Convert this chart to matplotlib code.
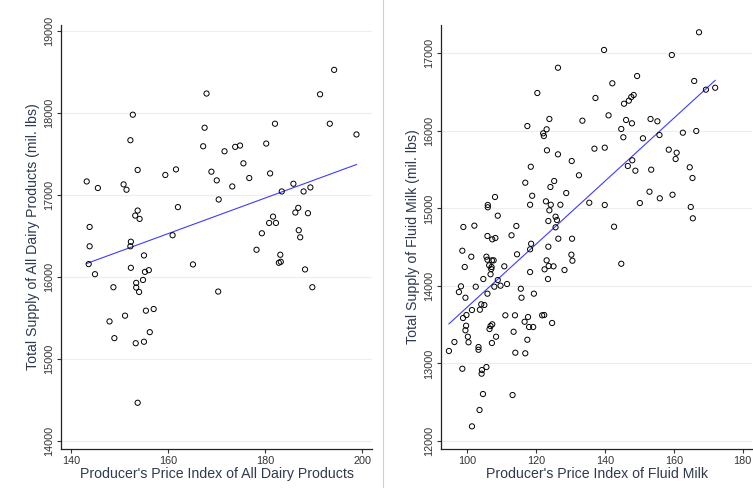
import numpy as np
import matplotlib
matplotlib.use("Agg")
import matplotlib.pyplot as plt
from matplotlib.lines import Line2D

plt.rcParams['font.family'] = ['Liberation Sans', 'DejaVu Sans']

# ---- Left panel: All dairy products ----
dairy_ppi = [194.2, 167.9, 191.3, 152.7, 167.5, 193.3, 182.0, 198.8, 152.2, 167.2,
             173.8, 174.8, 171.6, 180.2, 175.5, 153.7, 161.6, 159.4, 168.9, 170.0,
             181.0, 176.7, 143.2, 145.5, 150.8, 151.4, 173.2, 185.8, 183.4, 187.9,
             189.3, 170.4, 162.0, 153.7, 153.2, 154.1, 186.8, 186.2, 188.8, 181.6,
             180.8, 182.2, 143.8, 179.3, 186.9, 187.2, 160.9, 143.8, 143.6, 144.9,
             152.3, 152.2, 155.0, 152.3, 155.2, 156.0, 154.8, 153.4, 153.4, 154.0,
             148.7, 165.1, 170.3, 178.2, 183.1, 182.8, 183.2, 188.2, 189.7, 155.4,
             157.0, 151.1, 147.9, 156.2, 148.9, 153.3, 155.0, 153.7]
dairy_supply = [18526, 18237, 18228, 17979, 17820, 17869, 17869, 17738, 17668, 17594,
                17587, 17603, 17533, 17627, 17386, 17305, 17312, 17244, 17284, 17178,
                17263, 17207, 17165, 17085, 17129, 17064, 17104, 17137, 17043, 17043,
                17092, 16945, 16852, 16810, 16749, 16708, 16843, 16786, 16778, 16736,
                16659, 16659, 16610, 16533, 16570, 16484, 16509, 16374, 16157, 16034,
                16430, 16374, 16263, 16112, 16062, 16083, 15964, 15928, 15871, 15817,
                15875, 16153, 15822, 16332, 16271, 16173, 16185, 16092, 15875, 15589,
                15609, 15528, 15458, 15327, 15254, 15192, 15210, 14466]

# ---- Right panel: Fluid milk ----
milk_ppi = [126.3, 120.3, 137.2, 123.8, 133.4, 117.4, 123.0, 122.0, 122.2, 123.1,
            126.3, 136.9, 130.3, 118.4, 132.4, 125.2, 116.8, 124.1, 128.7, 108.0,
            118.8, 122.8, 118.2, 124.2, 127.0, 135.4, 105.9, 105.9, 123.8, 108.8,
            125.6, 126.0, 123.5, 98.8, 102.0, 114.2, 125.6, 167.3, 139.7, 159.4,
            149.3, 165.9, 142.1, 169.3, 172.0, 148.3, 147.6, 146.9, 145.5, 141.0,
            146.1, 147.8, 153.2, 155.2, 144.7, 145.3, 151.0, 155.8, 162.6, 166.5,
            139.9, 158.5, 160.8, 160.5, 147.9, 146.6, 148.8, 153.4, 164.6, 165.4,
            152.9, 155.9, 159.6, 150.1, 139.9, 164.9, 165.5, 142.6, 105.8, 107.2,
            108.1, 112.8, 126.4, 130.4, 118.5, 118.2, 123.5, 98.5, 101.1, 105.5,
            105.8, 107.1, 107.6, 114.4, 130.2, 130.5, 123.0, 99.2, 106.3, 107.0,
            106.9, 110.7, 123.6, 125.0, 122.4, 128.2, 118.2, 106.7, 104.6, 123.4,
            108.8, 98.1, 102.4, 107.8, 109.6, 111.5, 97.5, 115.5, 99.4, 105.8,
            115.7, 119.3, 104.0, 104.9, 101.3, 103.6, 99.7, 98.7, 111.0, 113.8,
            117.6, 121.7, 122.3, 116.6, 117.9, 119.1, 124.6, 99.6, 99.4, 107.2,
            106.7, 106.4, 113.4, 100.1, 108.3, 117.4, 96.2, 100.3, 107.1, 103.2,
            103.2, 94.6, 113.9, 116.8, 98.5, 104.2, 105.5, 104.1, 104.5, 113.1,
            103.5, 101.3, 144.7]
milk_supply = [16814, 16488, 16424, 16153, 16131, 16062, 16020, 15968, 15933, 15749,
               15697, 15770, 15611, 15537, 15427, 15353, 15331, 15276, 15198, 15147,
               15163, 15091, 15047, 15047, 15047, 15073, 15044, 15014, 14975, 14906,
               14893, 14850, 14837, 14760, 14777, 14773, 14756, 17271, 17043, 16978,
               16707, 16643, 16613, 16531, 16556, 16462, 16436, 16389, 16350, 16200,
               16140, 16097, 16153, 16123, 16024, 15917, 15904, 15946, 15976, 15998,
               15783, 15757, 15718, 15637, 15620, 15547, 15486, 15499, 15530, 15392,
               15215, 15130, 15176, 15069, 15044, 15018, 14872, 14764, 14644, 14601,
               14618, 14653, 14609, 14609, 14544, 14472, 14506, 14454, 14377, 14377,
               14338, 14330, 14330, 14408, 14403, 14325, 14330, 14244, 14266, 14244,
               14218, 14253, 14257, 14253, 14214, 14205, 14179, 14150, 14089, 14089,
               14076, 13995, 13990, 13990, 14003, 14025, 13921, 13964, 13848, 13900,
               13848, 13900, 13763, 13754, 13689, 13693, 13625, 13586, 13621, 13621,
               13599, 13621, 13625, 13538, 13470, 13470, 13522, 13487, 13428, 13505,
               13483, 13444, 13409, 13345, 13345, 13306, 13277, 13273, 13264, 13212,
               13177, 13161, 13139, 13131, 12932, 12915, 12954, 12868, 12606, 12593,
               12400, 12189, 14286]

left_xticks = [140, 160, 180, 200]
left_yticks = [14000, 15000, 16000, 17000, 18000, 19000]
right_xticks = [100, 120, 140, 160, 180]
right_yticks = [12000, 13000, 14000, 15000, 16000, 17000]

label_color = '#2f3a4f'
tick_color = '#333333'

fig = plt.figure(figsize=(7.53, 4.88), dpi=100)

def panel(rect, x, y, xlim, ylim, xticks, yticks, xlabel, ylabel):
    ax = fig.add_axes(rect)
    x = np.asarray(x); y = np.asarray(y)
    ax.scatter(x, y, s=14, facecolors='none', edgecolors='black', linewidths=0.7, zorder=3)
    b, a = np.polyfit(x, y, 1)
    xs = np.array([x.min(), x.max()])
    ax.plot(xs, a + b * xs, color='#3c3cff', lw=0.8, zorder=2)
    ax.set_xlim(*xlim); ax.set_ylim(*ylim)
    ax.set_xticks(xticks); ax.set_yticks(yticks)
    ax.set_yticklabels([str(t) for t in yticks], rotation=90, va='center')
    ax.grid(axis='y', color='#eaf0f0', lw=0.9)
    ax.set_axisbelow(True)
    for s in ['top', 'right']:
        ax.spines[s].set_visible(False)
    for s in ['left', 'bottom']:
        ax.spines[s].set_color('#222222')
        ax.spines[s].set_linewidth(0.9)
    ax.tick_params(axis='both', labelsize=7.8, colors=tick_color, length=3, width=0.8, pad=2)
    ax.set_xlabel(xlabel, fontsize=10.2, color=label_color, labelpad=1)
    ax.set_ylabel(ylabel, fontsize=10.2, color=label_color, labelpad=3)
    return ax

panel([61/753, 1 - 449/488, (372 - 61)/753, (449 - 25)/488],
      dairy_ppi, dairy_supply, (137.9, 202.0), (13902, 19073),
      left_xticks, left_yticks,
      "Producer's Price Index of All Dairy Products",
      "Total Supply of All Dairy Products (mil. lbs)")

panel([441/753, 1 - 449/488, (752 - 441)/753, (449 - 25)/488],
      milk_ppi, milk_supply, (92.3, 182.7), (11897, 17365),
      right_xticks, right_yticks,
      "Producer's Price Index of Fluid Milk",
      "Total Supply of Fluid Milk (mil. lbs)")

# thin separator between the two panels
fig.add_artist(Line2D([383/753, 383/753], [0, 1], color='#cfcfcf', lw=0.8))

fig.savefig('out.png', dpi=100)
